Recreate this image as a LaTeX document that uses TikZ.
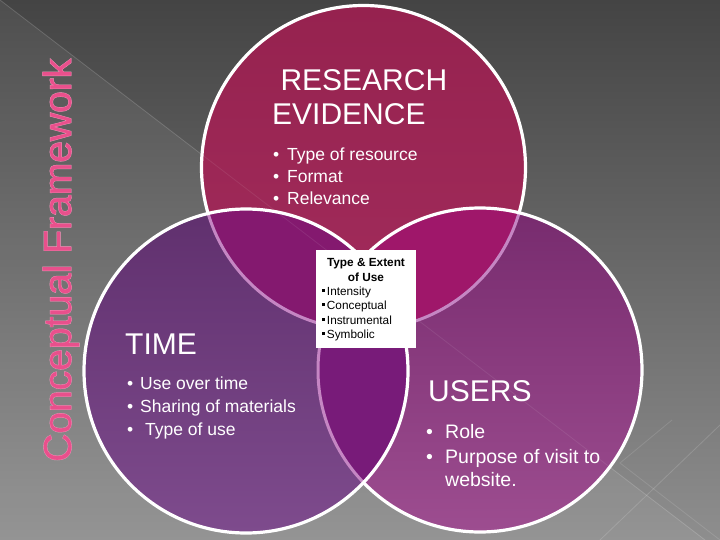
\documentclass[tikz,border=0pt]{standalone}
\usepackage{fontspec}
\setmainfont{Liberation Sans}
\newfontfamily\titleout[FakeBold=2.2]{Liberation Sans}
\newfontfamily\titlein[FakeBold=0.6]{Liberation Sans}
\definecolor{bgtop}{HTML}{444444}
\definecolor{bgbot}{HTML}{8E8E8E}
\definecolor{topA}{HTML}{96224F}
\definecolor{topB}{HTML}{A22C5C}
\definecolor{leftA}{HTML}{60306E}
\definecolor{leftB}{HTML}{7E4B8D}
\definecolor{rightA}{HTML}{772B6E}
\definecolor{rightB}{HTML}{9D4D90}
\definecolor{tl}{HTML}{84196F}
\definecolor{tr}{HTML}{9F176A}
\definecolor{lr}{HTML}{781B79}
\definecolor{tri}{HTML}{8A1A73}
\definecolor{faint}{HTML}{C586C3}
\definecolor{titlepink}{HTML}{E9508C}
\definecolor{titlelight}{HTML}{F4A6C6}
\tikzset{
  ring/.style={draw=white, line width=3.2pt},
  faintring/.style={draw=faint, line width=3pt},
  big/.style={anchor=base west, inner sep=0pt, text=white, font=\fontsize{30}{34}\selectfont},
  item/.style={anchor=base west, inner sep=0pt, text=white, font=\fontsize{17.5}{21}\selectfont},
  uitem/.style={anchor=base west, inner sep=0pt, text=white, font=\fontsize{19.5}{23}\selectfont},
  boxtxt/.style={anchor=base west, inner sep=0pt, text=black, font=\fontsize{11.8}{14}\selectfont},
  boxhead/.style={anchor=base, inner sep=0pt, text=black, font=\fontsize{11.8}{14}\selectfont\bfseries},
  titletxt/.style={anchor=base west, inner sep=0pt, rotate=90},
}
\newcommand{\sqb}{\rule[2.8pt]{2.8pt}{2.8pt}}
\begin{document}
\begin{tikzpicture}[x=1pt,y=-1pt]
\useasboundingbox (0,0) rectangle (720,540);
% background
\shade[top color=bgtop, bottom color=bgbot] (0,0) rectangle (720,540);
\fill[white, opacity=0.06] (0,0) -- (705,540) -- (0,540) -- cycle;
\draw[white, opacity=0.16, line width=0.8pt] (0,0) -- (705,540);
\draw[white, opacity=0.15, line width=0.8pt] (720,425) -- (600,540);
\draw[white, opacity=0.12, line width=0.8pt] (672,420) -- (620,463) -- (720,540);
% circle centres
\coordinate (ct) at (363.5,167.5);
\coordinate (cl) at (246,371);
\coordinate (cr) at (480,370);
% top circle
\shade[top color=topA, bottom color=topB] (ct) circle (162);
\draw[ring] (ct) circle (162);
% right circle
\shade[top color=rightA, bottom color=rightB] (cr) circle (162);
\begin{scope}
  \clip (cr) circle (162);
  \fill[tr] (ct) circle (162);
  \draw[faintring] (ct) circle (162);
\end{scope}
\draw[ring] (cr) circle (162);
% left circle
\shade[top color=leftA, bottom color=leftB] (cl) circle (162);
\begin{scope}
  \clip (cl) circle (162);
  \fill[tl] (ct) circle (162);
  \fill[lr] (cr) circle (162);
  \begin{scope}
    \clip (ct) circle (162);
    \fill[tri] (cr) circle (162);
  \end{scope}
  \draw[faintring] (ct) circle (162);
  \draw[faintring] (cr) circle (162);
\end{scope}
\draw[ring] (cl) circle (162);
% faint background diagonal seen through circles
\begin{scope}
  \clip (ct) circle (160) (cl) circle (160) (cr) circle (160);
  \draw[white, opacity=0.08, line width=0.8pt] (0,0) -- (705,540);
\end{scope}
% title
\node[titletxt, text=titlelight, font=\fontsize{39}{44}\titleout] (titleb) at (71,462) {Conceptual Framework};
\node[titletxt, text=titlepink, font=\fontsize{39}{44}\titlein] (title) at (71,462) {Conceptual Framework};
% research evidence
\node[big] (re1) at (272,91) {\ RESEARCH};
\node[big] (re2) at (272,125) {EVIDENCE};
\node[item] (rb1) at (273,161) {•};
\node[item] (rt1) at (287,161) {Type of resource};
\node[item] (rb2) at (273,183) {•};
\node[item] (rt2) at (287,183) {Format};
\node[item] (rb3) at (273,205) {•};
\node[item] (rt3) at (287,205) {Relevance};
% time
\node[big] (ti) at (125,354) {TIME};
\node[item] (tb1) at (127,389) {•};
\node[item] (tt1) at (140,389) {Use over time};
\node[item] (tb2) at (127,412) {•};
\node[item] (tt2) at (140,412) {Sharing of materials};
\node[item] (tb3) at (127,435) {•};
\node[item] (tt3) at (145,435) {Type of use};
% users
\node[big] (us) at (428,401) {USERS};
\node[uitem] (ub1) at (426,438) {•};
\node[uitem] (ut1) at (445,438) {Role};
\node[uitem] (ub2) at (426,463) {•};
\node[uitem] (ut2) at (445,463) {Purpose of visit to};
\node[uitem] (ut3) at (445,486) {website.};
% centre box
\node[fill=white, minimum width=100pt, minimum height=98pt, inner sep=0pt] (box) at (366,299) {};
\node[boxhead] (bh1) at (366,266) {Type \& Extent};
\node[boxhead] (bh2) at (366,281) {of Use};
\node[boxtxt] (bi1) at (322,295) {\sqb\,Intensity};
\node[boxtxt] (bi2) at (322,309) {\sqb\,Conceptual};
\node[boxtxt] (bi3) at (322,324) {\sqb\,Instrumental};
\node[boxtxt] (bi4) at (322,338) {\sqb\,Symbolic};
\end{tikzpicture}
\end{document}
